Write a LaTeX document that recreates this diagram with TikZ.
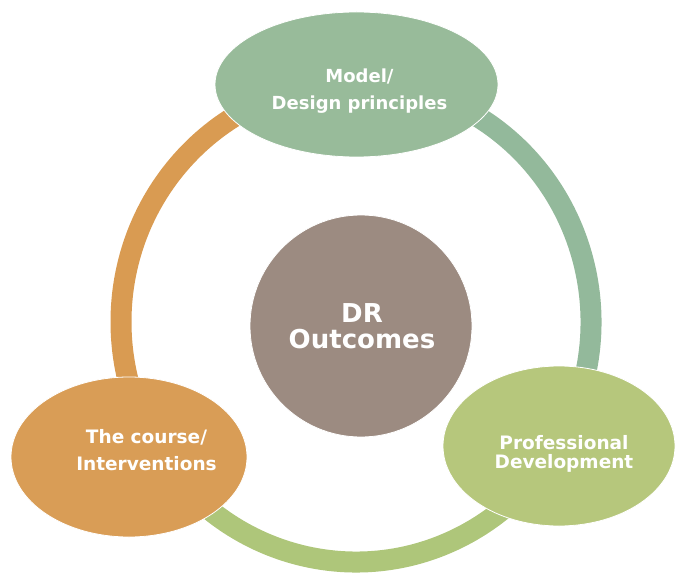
\documentclass[tikz,border=0pt]{standalone}
\usepackage{fontspec}
\setmainfont{DejaVu Sans}
\usetikzlibrary{shapes.geometric}
\definecolor{sageE}{HTML}{98BB9A}
\definecolor{sageR}{HTML}{93B99B}
\definecolor{taupe}{HTML}{9C8B81}
\definecolor{orangeE}{HTML}{D99D56}
\definecolor{orangeR}{HTML}{D99B52}
\definecolor{limeE}{HTML}{B6C77C}
\definecolor{limeR}{HTML}{AEC67A}
\tikzset{
  ringseg/.style={line width=21pt},
  blob/.style={ellipse, draw=white, line width=0.8pt, inner sep=0pt},
  lbl/.style={text=white, font=\bfseries, align=center, inner sep=0pt, anchor=base}
}
\begin{document}
\begin{tikzpicture}[x=1pt,y=1pt]
\useasboundingbox (0,0) rectangle (677,574);
\coordinate (rc) at (356,252);
% ring segments
\draw[ringseg, orangeR] ([shift={(90:235pt and 240pt)}]rc) arc[start angle=90, end angle=210, x radius=235pt, y radius=240pt];
\draw[ringseg, sageR] ([shift={(-30:235pt and 240pt)}]rc) arc[start angle=-30, end angle=90, x radius=235pt, y radius=240pt];
\draw[ringseg, limeR] ([shift={(210:235pt and 240pt)}]rc) arc[start angle=210, end angle=330, x radius=235pt, y radius=240pt];
% central circle
\node[circle, fill=taupe, draw=white, line width=0.8pt, minimum size=222pt, inner sep=0pt] (core) at (361,248) {};
% ellipses
\node[blob, fill=sageE, minimum width=283pt, minimum height=145pt] (model) at (356.5,489.5) {};
\node[blob, fill=orangeE, minimum width=236pt, minimum height=160pt] (course) at (129,117) {};
\node[blob, fill=limeE, minimum width=232pt, minimum height=160pt] (prof) at (559,128) {};
% labels
\node[lbl, font=\bfseries\fontsize{18}{27}\selectfont] (modeltxt) at (359.5,464) {Model/\\Design principles};
\node[lbl, font=\bfseries\fontsize{26}{26}\selectfont] (coretxt) at (362,226) {DR\\Outcomes};
\node[lbl, font=\bfseries\fontsize{18.5}{27}\selectfont] (coursetxt) at (146.5,104) {The course/\\Interventions};
\node[lbl, font=\bfseries\fontsize{18.5}{19}\selectfont] (proftxt) at (564,106) {Professional\\Development};
\end{tikzpicture}
\end{document}
